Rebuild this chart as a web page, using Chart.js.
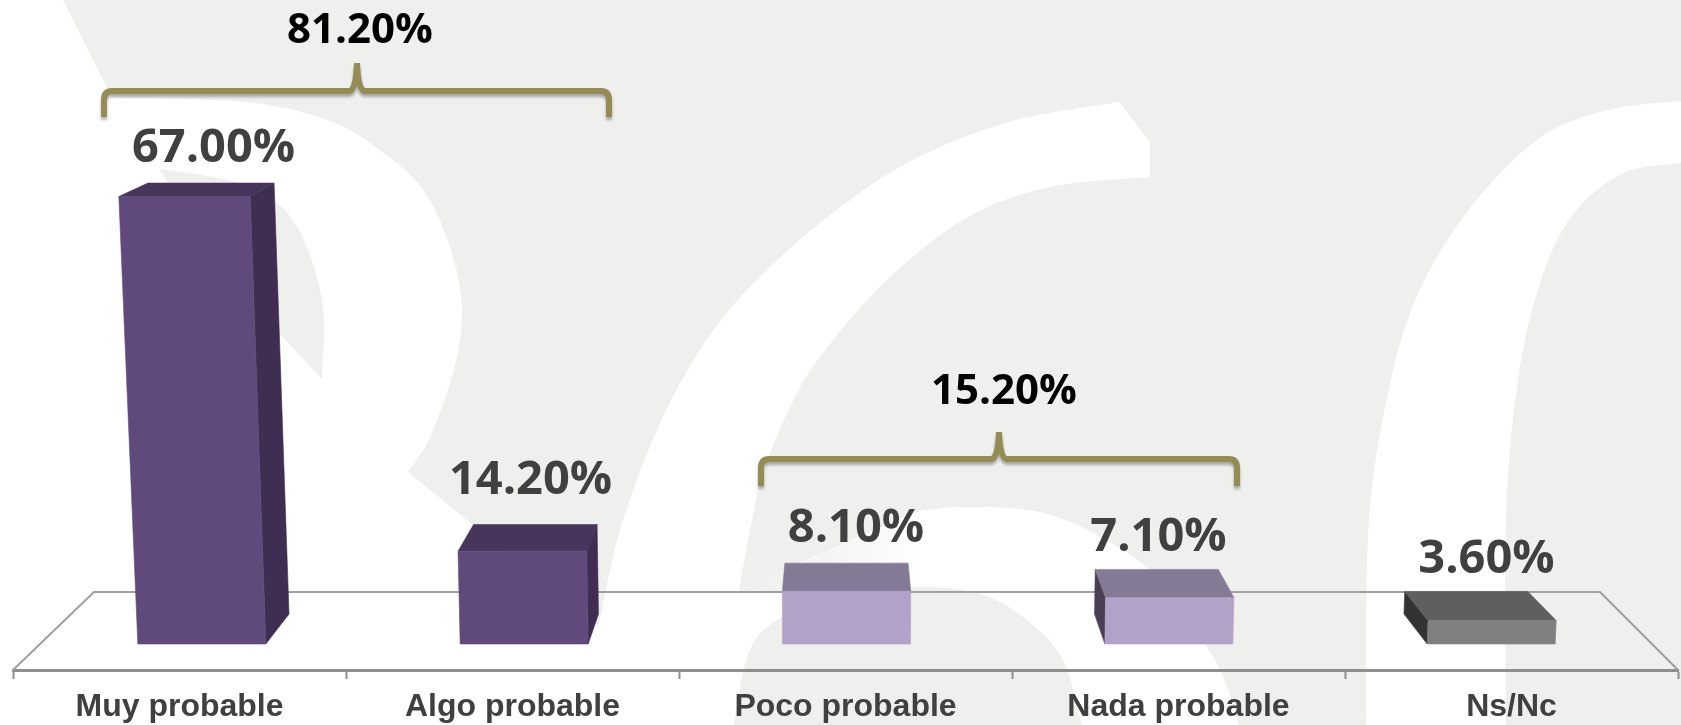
<!DOCTYPE html>
<html>
<head>
<meta charset="utf-8">
<style>
html, body { margin: 0; padding: 0; background: #fff; overflow: hidden; }
canvas { display: block; }
</style>
<script src="https://cdn.jsdelivr.net/npm/chart.js@4"></script>
</head>
<body>
<canvas id="chart" width="1681" height="725"></canvas>
<script>
const categories = ['Muy probable', 'Algo probable', 'Poco probable', 'Nada probable', 'Ns/Nc'];
const values = [67.0, 14.2, 8.1, 7.1, 3.6];
const groupTotals = [81.2, 15.2];

const frontColors = ['#5f4a7b', '#5f4a7b', '#b3a2c7', '#b3a2c7', '#808080'];
const topColors = ['#47355b', '#47355b', '#857a95', '#857a95', '#5f5f5f'];
const sideColors = ['#3f2e51', '#3f2e51', '#857a95', '#4a4054', '#333333'];

// the picture is a 3D column chart, these bend the flat bars towards the vanishing point
const vanishX = 846;
const frontShrink = 0.968;
const backShrink = 0.96;
const floorDepth = 30;

function bgCurve(ctx, pts) {
    // catmull-rom through the points, so the line really passes through them
    ctx.lineTo(pts[0][0], pts[0][1]);
    for (let i = 0; i < pts.length - 1; i++) {
        const p0 = pts[Math.max(i - 1, 0)];
        const p1 = pts[i];
        const p2 = pts[i + 1];
        const p3 = pts[Math.min(i + 2, pts.length - 1)];
        ctx.bezierCurveTo(
            p1[0] + (p2[0] - p0[0]) / 6, p1[1] + (p2[1] - p0[1]) / 6,
            p2[0] - (p3[0] - p1[0]) / 6, p2[1] - (p3[1] - p1[1]) / 6,
            p2[0], p2[1]
        );
    }
}

const backgroundShapes = {
    id: 'backgroundShapes',
    beforeDraw(chart) {
        const ctx = chart.ctx;
        ctx.save();
        ctx.fillStyle = '#ffffff';
        ctx.fillRect(0, 0, 1681, 725);
        ctx.fillStyle = '#efefed';

        // main grey area, goes round the watermark letters
        ctx.beginPath();
        ctx.moveTo(63, 0);
        ctx.lineTo(1681, 0);
        bgCurve(ctx, [[1681, 101], [1608, 110], [1541, 137], [1474, 203], [1421, 287], [1391, 380], [1369, 520], [1366, 725]]);
        ctx.lineTo(1239, 725);
        bgCurve(ctx, [[1239, 725], [1221, 672], [1185, 615], [1140, 562], [1051, 515], [962, 507], [913, 513]]);
        ctx.lineTo(739, 590);
        bgCurve(ctx, [[739, 590], [750, 530], [763, 473], [790, 407], [820, 357], [887, 280], [968, 217], [1050, 187], [1150, 177]]);
        ctx.lineTo(1150, 142);
        ctx.lineTo(1119, 102);
        bgCurve(ctx, [[1119, 102], [1009, 122], [907, 163], [820, 223], [747, 290], [700, 350], [657, 430], [620, 530], [602, 610]]);
        ctx.lineTo(598, 627);
        ctx.lineTo(408, 472);
        bgCurve(ctx, [[408, 472], [430, 437], [453, 373], [462, 310], [450, 247], [423, 190], [380, 150], [327, 120], [245, 102], [112, 98]]);
        ctx.closePath();
        ctx.fill();

        // the top of the small arc fades out into the grey towards the left
        const fade = ctx.createLinearGradient(739, 0, 925, 0);
        fade.addColorStop(0, '#efefed');
        fade.addColorStop(0.5, '#f5f5f4');
        fade.addColorStop(1, '#ffffff');
        ctx.fillStyle = fade;
        ctx.beginPath();
        ctx.moveTo(739, 590);
        ctx.lineTo(925, 509);
        ctx.lineTo(925, 592);
        ctx.lineTo(739, 592);
        ctx.closePath();
        ctx.fill();

        ctx.fillStyle = '#efefed';
        ctx.beginPath();
        ctx.moveTo(1681, 725);
        ctx.lineTo(1506, 725);
        bgCurve(ctx, [[1506, 725], [1506, 520], [1518, 380], [1541, 280], [1574, 213], [1624, 173], [1681, 163]]);
        ctx.closePath();
        ctx.fill();

        ctx.beginPath();
        ctx.moveTo(734, 725);
        bgCurve(ctx, [[734, 725], [747, 658], [770, 625], [828, 598], [917, 587], [984, 595], [1033, 625], [1064, 662], [1082, 725]]);
        ctx.closePath();
        ctx.fill();

        ctx.beginPath();
        ctx.moveTo(160, 169);
        bgCurve(ctx, [[160, 169], [245, 185], [294, 222], [322, 300], [322, 379]]);
        ctx.lineTo(200, 250);
        ctx.closePath();
        ctx.fill();
        ctx.restore();
    }
};

const floorLines = {
    id: 'floorLines',
    beforeDatasetsDraw(chart) {
        const ctx = chart.ctx;
        const area = chart.chartArea;
        ctx.save();
        ctx.strokeStyle = '#a0a09f';
        ctx.lineWidth = 2;
        ctx.beginPath();
        ctx.moveTo(area.left, area.bottom);
        ctx.lineTo(area.left + 81, area.bottom - 78);
        ctx.lineTo(area.right - 78, area.bottom - 78);
        ctx.lineTo(area.right, area.bottom);
        ctx.stroke();
        ctx.restore();
    }
};

// draws the 3D box from the element's own x, y, base and width
Chart.BarElement.prototype.draw = function (ctx) {
    const i = this.$context.index;
    const base = this.base;
    const h = base - this.y;
    const top = base - h * (1 + h * 0.000063);
    const hh = base - top;
    const cx = vanishX + (this.x - vanishX) * frontShrink + 1;
    const half = this.width * frontShrink / 2;
    const tilt = (x, y) => x + (x - vanishX) * (base - y) * 0.00006;
    const back = x => vanishX + (x - vanishX) * backShrink;

    const bl = tilt(cx - half, base);
    const br = tilt(cx + half, base);
    const tl = tilt(cx - half, top);
    const tr = tilt(cx + half, top);
    const topDepth = floorDepth - 16.5 * hh / 447;
    const backTop = top - topDepth;
    const backBase = base - floorDepth;

    const poly = (pts, color) => {
        ctx.fillStyle = color;
        ctx.strokeStyle = color;
        ctx.lineWidth = 0.6;
        ctx.beginPath();
        pts.forEach((p, n) => n ? ctx.lineTo(p[0], p[1]) : ctx.moveTo(p[0], p[1]));
        ctx.closePath();
        ctx.fill();
        ctx.stroke();
    };

    ctx.save();
    if (back(br) - br > 4) {
        poly([[tr, top], [back(tr), backTop], [back(br), backBase], [br, base]], sideColors[i]);
    }
    if (bl - back(bl) > 4) {
        poly([[tl, top], [back(tl), backTop], [back(bl), backBase], [bl, base]], sideColors[i]);
    }
    poly([[tl, top], [back(tl), backTop], [back(tr), backTop], [tr, top]], topColors[i]);
    poly([[tl, top], [tr, top], [br, base], [bl, base]], this.options.backgroundColor);
    ctx.restore();
};

const valueLabels = {
    id: 'valueLabels',
    afterDatasetsDraw(chart, args, opts) {
        const ctx = chart.ctx;
        ctx.save();
        ctx.fillStyle = '#404040';
        ctx.font = '700 47px "Open Sans"';
        ctx.textAlign = 'center';
        ctx.textBaseline = 'middle';
        chart.getDatasetMeta(0).data.forEach((bar, i) => {
            ctx.fillText(values[i].toFixed(2) + '%', bar.x + opts.shiftX[i], bar.y + opts.shiftY[i]);
        });
        ctx.restore();
    }
};

function drawBrace(ctx, left, right, mid, apex, line, bottom) {
    ctx.beginPath();
    ctx.moveTo(left, bottom);
    ctx.lineTo(left, line + 9);
    ctx.quadraticCurveTo(left, line, left + 8, line);
    ctx.lineTo(mid - 8, line);
    ctx.quadraticCurveTo(mid - 1, line, mid, apex);
    ctx.quadraticCurveTo(mid + 1, line, mid + 8, line);
    ctx.lineTo(right - 8, line);
    ctx.quadraticCurveTo(right, line, right, line + 9);
    ctx.lineTo(right, bottom);
    ctx.stroke();
}

const groupBraces = {
    id: 'groupBraces',
    afterDraw(chart) {
        const ctx = chart.ctx;
        ctx.save();
        ctx.strokeStyle = '#958c55';
        ctx.lineWidth = 6;
        ctx.shadowColor = 'rgba(0,0,0,0.3)';
        ctx.shadowBlur = 3;
        ctx.shadowOffsetY = 3;
        drawBrace(ctx, 104, 609, 357, 63, 91, 117);
        drawBrace(ctx, 761, 1237, 999, 432, 459, 486);
        ctx.restore();

        ctx.save();
        ctx.fillStyle = '#000000';
        ctx.font = '700 42px "Open Sans"';
        ctx.textAlign = 'center';
        ctx.textBaseline = 'middle';
        ctx.fillText(groupTotals[0].toFixed(2) + '%', 360, 31);
        ctx.fillText(groupTotals[1].toFixed(2) + '%', 1004, 392);
        ctx.restore();
    }
};

new Chart(document.getElementById('chart'), {
    type: 'bar',
    data: {
        labels: categories,
        datasets: [{
            data: values,
            backgroundColor: frontColors,
            categoryPercentage: 1,
            barPercentage: 0.397
        }]
    },
    plugins: [backgroundShapes, floorLines, valueLabels, groupBraces],
    options: {
        responsive: false,
        animation: false,
        layout: { padding: { left: 13, right: 3, top: 0, bottom: 0 } },
        plugins: {
            legend: { display: false },
            tooltip: { enabled: false },
            valueLabels: {
                shiftX: [34, 18, 10.5, -20, -25],
                shiftY: [-59.5, -71.5, -62.5, -60.5, -61]
            }
        },
        scales: {
            x: {
                afterFit(scale) { scale.height = 55; },
                border: { color: '#8e8e8e', width: 3 },
                grid: {
                    offset: true,
                    drawOnChartArea: false,
                    drawTicks: true,
                    tickLength: 9,
                    tickWidth: 2,
                    tickColor: '#8e8e8e'
                },
                ticks: {
                    color: '#404040',
                    padding: 9,
                    font: { family: '"Liberation Sans"', weight: 'bold', size: 32 },
                    maxRotation: 0,
                    autoSkip: false
                }
            },
            y: { display: false, min: -4, max: 99.08 }
        }
    }
});
</script>
</body>
</html>
